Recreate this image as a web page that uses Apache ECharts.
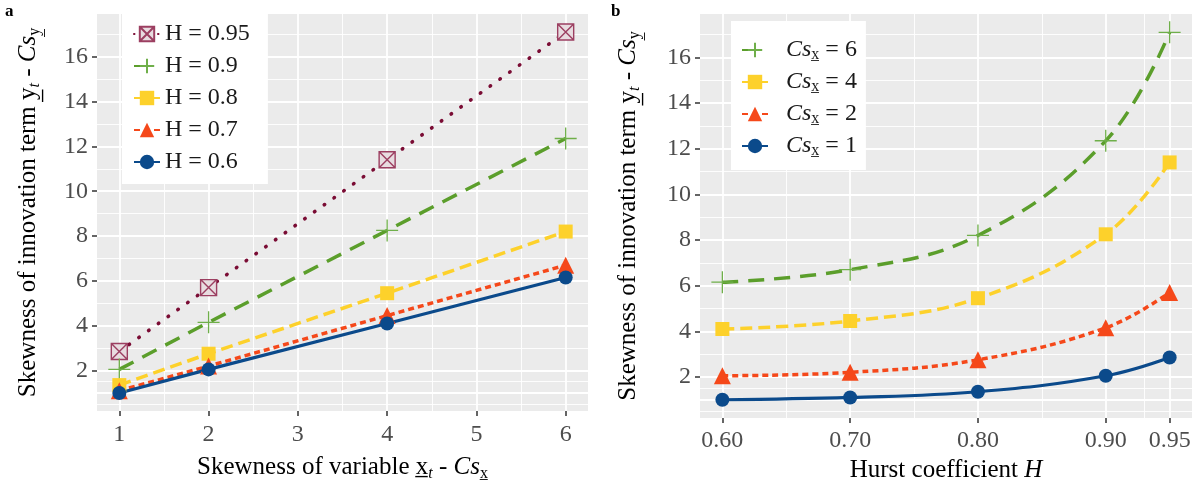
<!DOCTYPE html>
<html><head><meta charset="utf-8">
<script src="https://cdn.jsdelivr.net/npm/echarts@6/dist/echarts.min.js"></script>
<style>html,body{margin:0;padding:0;background:#fff}#c{width:1199px;height:488px}</style>
</head><body><div id="c"></div><script>
// ---- data ----
const csValues = [1, 2, 4, 6];
const hurstValues = [0.6, 0.7, 0.8, 0.9, 0.95];
const skewH060 = [1.0, 2.05, 4.1, 6.15];
const skewH070 = [1.1, 2.2, 4.45, 6.7];
const skewH080 = [1.35, 2.75, 5.45, 8.2];
const skewH090 = [2.05, 4.15, 8.25, 12.35];
const skewH095 = [2.85, 5.7, 11.4, 17.1];
const hNames = ['H = 0.6', 'H = 0.7', 'H = 0.8', 'H = 0.9', 'H = 0.95'];
const csNames = ['Cs1', 'Cs2', 'Cs4', 'Cs6'];
const leftXTicks = [1, 2, 3, 4, 5, 6];
const leftXMinor = [1.5, 2.5, 3.5, 4.5, 5.5];
const yTicks = [1, 2, 4, 6, 8, 10, 12, 14, 16];
const yMinor = [0.5, 1.5, 3, 5, 7, 9, 11, 13, 15, 17];
const rightXTicks = [0.6, 0.7, 0.8, 0.9, 0.95];
const rightXTickLabels = ['0.60', '0.70', '0.80', '0.90', '0.95'];
const rightXMinor = [0.65, 0.75, 0.85, 0.925];

const bySkewH = [skewH060, skewH070, skewH080, skewH090, skewH095];

// ---- styles ----
const FONT = "'Liberation Serif', 'Times New Roman', serif";
const styles = [
  {color: '#0B4A8B', type: 'solid', width: 3.2, symbol: 'circle', size: 14, item: {color: '#0B4A8B'}},
  {color: '#F5481A', type: [6, 4], width: 3.5, symbol: 'triangle', size: 17, item: {color: '#F5481A'}},
  {color: '#FDD12B', type: [12, 6], width: 3.5, symbol: 'rect', size: 14, item: {color: '#FDD12B'}},
  {color: '#5B9E2B', type: [16, 10], width: 3.5, symbol: 'path://M10,0V20M0,10H20', size: 22,
    item: {color: 'rgba(0,0,0,0)', borderColor: '#6FAF4A', borderWidth: 1.3}},
  {color: '#7A0C34', type: [0.5, 11.5], width: 3.6, cap: 'round', symbol: 'path://M0,0H20V20H0Z M0,0L20,20 M20,0L0,20', size: 16,
    item: {color: '#E8DCE0', borderColor: '#9C3F61', borderWidth: 1.4}}
];

function mkSeries(name, xs, ys, st, xi, smooth) {
  return {
    name, type: 'line', xAxisIndex: xi, yAxisIndex: xi, z: 3,
    data: xs.map((x, i) => [x, ys[i]]),
    smooth: smooth ? 0.4 : false,
    symbol: st.symbol, symbolSize: st.size,
    lineStyle: {color: st.color, width: st.width, type: st.type, cap: st.cap || 'butt'},
    itemStyle: st.item,
    emphasis: {disabled: true}, animation: false
  };
}

const series = [];
// grid lines (drawn through the axes with markLine)
function gridSeries(xi, xMaj, xMin) {
  const d = [];
  xMin.forEach(v => d.push({xAxis: v, lineStyle: {width: 0.9}}));
  yMinor.forEach(v => d.push({yAxis: v, lineStyle: {width: 0.9}}));
  xMaj.forEach(v => d.push({xAxis: v, lineStyle: {width: 1.8}}));
  yTicks.forEach(v => d.push({yAxis: v, lineStyle: {width: 1.8}}));
  return {
    type: 'line', xAxisIndex: xi, yAxisIndex: xi, data: [], silent: true, z: 1,
    markLine: {silent: true, z: 1, symbol: ['none', 'none'], label: {show: false}, animation: false,
      lineStyle: {color: '#FFFFFF', type: 'solid'}, emphasis: {disabled: true}, data: d}
  };
}
series.push(gridSeries(0, leftXTicks, leftXMinor));
series.push(gridSeries(1, rightXTicks, rightXMinor));

// panel a: x = Cs, one line per H
for (let h = hNames.length - 1; h >= 0; h--) {
  series.push(mkSeries(hNames[h], csValues, bySkewH[h], styles[h], 0, false));
}
// panel b: x = H, one line per Cs
for (let c = csNames.length - 1; c >= 0; c--) {
  const ys = bySkewH.map(arr => arr[c]);
  series.push(mkSeries(csNames[c], hurstValues, ys, styles[c], 1, true));
}

const tickStyle = {show: true, length: 5, lineStyle: {color: '#333', width: 1.5}};
const labelBase = {fontFamily: FONT, fontSize: 24, color: '#4D4D4D'};
const richTitle = {
  n: {fontFamily: FONT, fontSize: 25, lineHeight: 30, color: '#000'},
  i: {fontFamily: FONT, fontSize: 25, lineHeight: 30, color: '#000', fontStyle: 'italic'},
  s: {fontFamily: FONT, fontSize: 16, lineHeight: 10, color: '#000', verticalAlign: 'bottom'},
  si: {fontFamily: FONT, fontSize: 16, lineHeight: 10, color: '#000', verticalAlign: 'bottom', fontStyle: 'italic'}
};
const yTitle = '{n|Skewness of innovation term }{n|y\u0332}{si|t}{n| - }{i|Cs}{s|y\u0332}';

function yAxis(gi, gap) {
  return {
    type: 'value', gridIndex: gi, min: 0.195, max: 17.905,
    axisLine: {show: false}, splitLine: {show: false},
    axisTick: Object.assign({customValues: yTicks}, tickStyle),
    axisLabel: Object.assign({customValues: yTicks, margin: 9}, labelBase),
    name: yTitle, nameLocation: 'middle', nameGap: gap,
    nameTextStyle: {fontFamily: FONT, fontSize: 25, color: '#000', rich: richTitle}
  };
}

const legendText = {fontFamily: FONT, fontSize: 24, lineHeight: 26, color: '#1A1A1A'};

const option = {
  animation: false,
  backgroundColor: '#FFFFFF',
  textStyle: {fontFamily: FONT},
  grid: [
    {left: 97, top: 14, width: 491, height: 397, show: true, backgroundColor: '#EBEBEB', borderWidth: 0},
    {left: 700, top: 14, width: 492, height: 405, show: true, backgroundColor: '#EBEBEB', borderWidth: 0}
  ],
  xAxis: [
    {type: 'value', gridIndex: 0, min: 0.75, max: 6.25,
      axisLine: {show: false}, splitLine: {show: false},
      axisTick: Object.assign({customValues: leftXTicks}, tickStyle),
      axisLabel: Object.assign({customValues: leftXTicks, margin: 12}, labelBase),
      name: '{n|Skewness of variable }{n|x\u0332}{si|t}{n| - }{i|Cs}{s|x\u0332}',
      nameLocation: 'middle', nameGap: 41,
      nameTextStyle: {fontFamily: FONT, fontSize: 25, color: '#000', rich: richTitle}},
    {type: 'value', gridIndex: 1, min: 0.5825, max: 0.9675,
      axisLine: {show: false}, splitLine: {show: false},
      axisTick: Object.assign({customValues: rightXTicks}, tickStyle),
      axisLabel: Object.assign({customValues: rightXTicks, margin: 11,
        formatter: v => rightXTickLabels[rightXTicks.findIndex(t => Math.abs(t - v) < 1e-6)]}, labelBase),
      name: '{n|Hurst coefficient }{i|H}',
      nameLocation: 'middle', nameGap: 35,
      nameTextStyle: {fontFamily: FONT, fontSize: 25, color: '#000', rich: richTitle}}
  ],
  yAxis: [yAxis(0, 54), yAxis(1, 57)],
  legend: [
    {data: hNames.slice().reverse(), orient: 'vertical', left: 122, top: 14,
      backgroundColor: '#FFFFFF', borderWidth: 0, padding: [7, 18, 9, 11],
      itemWidth: 26, itemHeight: 18, itemGap: 6, selectedMode: false,
      formatter: name => '{n|' + name + '}',
      textStyle: Object.assign({rich: {n: legendText}}, legendText)},
    {data: csNames.slice().reverse(), orient: 'vertical', left: 731, top: 21,
      backgroundColor: '#FFFFFF', borderWidth: 0, padding: [16, 9, 11, 10],
      itemWidth: 26, itemHeight: 18, itemGap: 6, selectedMode: false,
      formatter: name => '{i|Cs}{s|x\u0332}{n| = ' + name.slice(2) + '}',
      textStyle: Object.assign({padding: [0, 0, 0, 13],
        rich: {
          n: legendText,
          i: Object.assign({fontStyle: 'italic'}, legendText),
          s: {fontFamily: FONT, fontSize: 16, lineHeight: 10, color: '#1A1A1A', verticalAlign: 'bottom'}
        }}, legendText)}
  ],
  graphic: [
    {type: 'text', left: 5, top: 3, style: {text: 'a', fontFamily: FONT, fontSize: 17, fontWeight: 'bold', fill: '#000'}},
    {type: 'text', left: 611, top: 3, style: {text: 'b', fontFamily: FONT, fontSize: 17, fontWeight: 'bold', fill: '#000'}}
  ],
  series
};
const chart = echarts.init(document.getElementById('c'), null, {renderer: 'canvas'});
chart.setOption(option);
</script></body></html>
